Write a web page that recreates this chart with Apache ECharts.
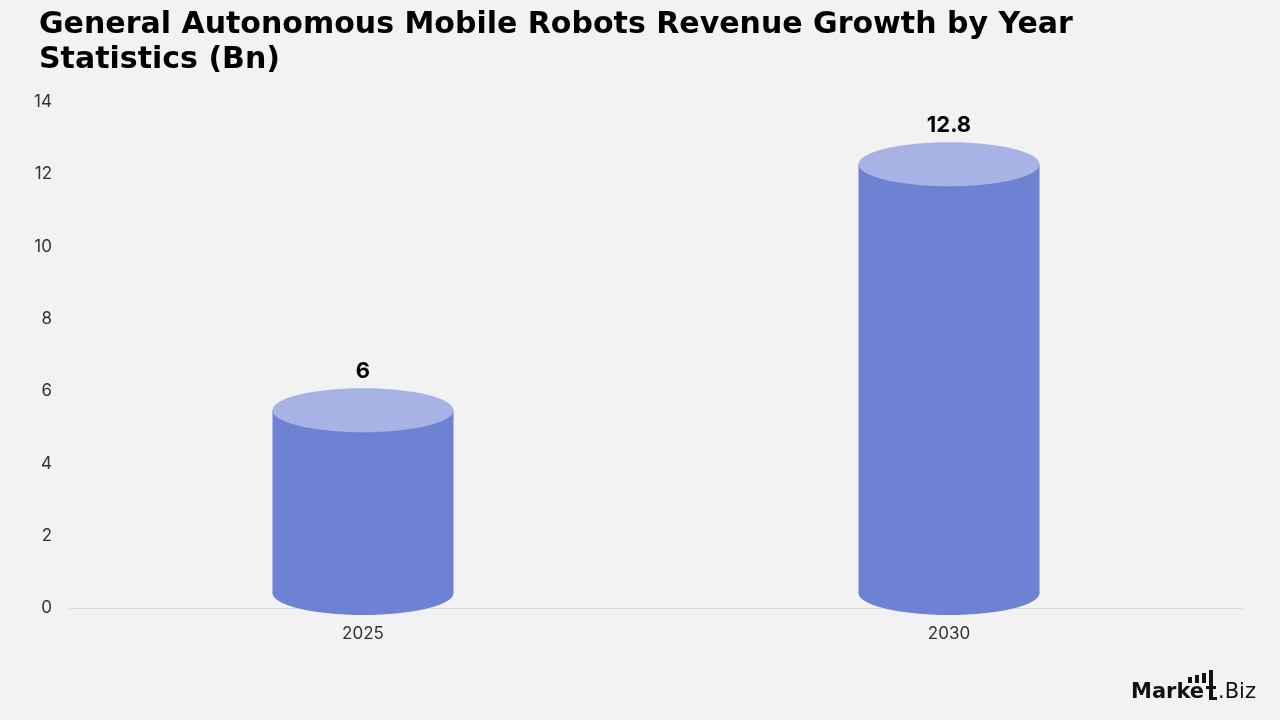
<!DOCTYPE html>
<html>
<head>
<meta charset="utf-8">
<script src="https://cdn.jsdelivr.net/npm/echarts@6/dist/echarts.min.js"></script>
<style>
  html, body { margin: 0; padding: 0; background: #f2f2f2; }
  #chart { width: 1280px; height: 720px; }
</style>
</head>
<body>
<div id="chart"></div>
<script>
// Chart data
const years = ['2025', '2030'];
const revenue = [6, 12.8];
const yTicks = { min: 0, max: 14, interval: 2 };

const bodyColor = '#6e82d4';
const capColor = '#a8b3e5';
const fontFamily = 'Inter, "Open Sans", sans-serif';
const titleFont = '"DejaVu Sans", Inter, sans-serif';

const chart = echarts.init(document.getElementById('chart'));

// draws one cylinder per category: body + bottom ellipse + top cap + value label
const renderCylinder = (params, api) => {
    const top = api.coord([api.value(0), api.value(1)]);
    const base = api.coord([api.value(0), 0]);
    const w = api.size([1, 0])[0] * 0.309;
    const rx = w / 2, ry = 22;
    const cx = top[0];
    const topC = top[1] + 19;
    const botC = base[1] - 15;
    return {
        type: 'group',
        children: [
            { type: 'rect', shape: { x: cx - rx, y: topC, width: w, height: botC - topC }, style: { fill: bodyColor } },
            { type: 'ellipse', shape: { cx: cx, cy: botC, rx: rx, ry: ry }, style: { fill: bodyColor } },
            { type: 'ellipse', shape: { cx: cx, cy: topC, rx: rx, ry: ry }, style: { fill: capColor } },
            {
                type: 'text',
                style: {
                    text: String(api.value(1)),
                    x: cx, y: top[1] - 20,
                    align: 'center', verticalAlign: 'middle',
                    fill: '#000', fontSize: 22, fontWeight: 'bold', fontFamily: fontFamily
                }
            }
        ]
    };
};

chart.setOption({
    backgroundColor: '#f2f2f2',
    title: {
        text: 'General Autonomous Mobile Robots Revenue Growth by Year\nStatistics (Bn)',
        left: 34,
        top: 3,
        textStyle: { color: '#000', fontSize: 30, fontWeight: 'bold', lineHeight: 35, fontFamily: titleFont }
    },
    grid: { left: 70, right: 38, top: 102, bottom: 112 },
    xAxis: {
        type: 'category',
        data: years,
        axisLine: { lineStyle: { color: '#d9d9d9' } },
        axisTick: { show: false },
        axisLabel: { color: '#333', fontSize: 17, margin: 17, fontFamily: fontFamily }
    },
    yAxis: {
        type: 'value',
        min: yTicks.min,
        max: yTicks.max,
        interval: yTicks.interval,
        splitLine: { show: false },
        axisLine: { show: false },
        axisTick: { show: false },
        axisLabel: { color: '#333', fontSize: 17, margin: 18, fontFamily: fontFamily }
    },
    series: [{
        type: 'custom',
        renderItem: renderCylinder,
        encode: { x: 0, y: 1 },
        data: years.map((y, i) => [i, revenue[i]]),
        clip: false
    }],
    graphic: [
        // Market.Biz logo: "Marke" + bar-chart "t" + ".Biz"
        { type: 'text', left: 1131, top: 682, style: { text: 'Marke', fill: '#111', fontSize: 21, fontWeight: 'bold', fontFamily: titleFont } },
        { type: 'rect', shape: { x: 1188, y: 677, width: 4, height: 6 }, style: { fill: '#111' } },
        { type: 'rect', shape: { x: 1195, y: 675, width: 4, height: 8 }, style: { fill: '#111' } },
        { type: 'rect', shape: { x: 1202, y: 673, width: 4, height: 10 }, style: { fill: '#111' } },
        { type: 'rect', shape: { x: 1209, y: 670, width: 4, height: 30 }, style: { fill: '#111' } },
        { type: 'rect', shape: { x: 1206, y: 686, width: 10, height: 3 }, style: { fill: '#111' } },
        { type: 'rect', shape: { x: 1209, y: 697, width: 8, height: 3 }, style: { fill: '#111' } },
        { type: 'text', left: 1218, top: 682, style: { text: '.Biz', fill: '#111', fontSize: 21, fontFamily: titleFont } }
    ]
});

window.addEventListener('resize', () => chart.resize());
</script>
</body>
</html>
